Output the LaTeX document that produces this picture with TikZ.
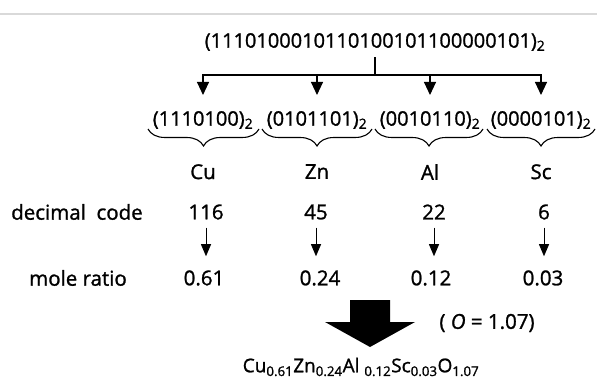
\documentclass[tikz,border=0pt]{standalone}
\usepackage{fontspec}
\setmainfont{Open Sans}[FakeBold=1.2]
\usetikzlibrary{positioning, arrows.meta, decorations.pathreplacing}

\tikzset{
	tip/.style={-{Triangle[length=13pt,width=12pt]}, line width=1.1pt},
	thintip/.style={-{Triangle[length=12pt,width=10pt]}, line width=0.9pt},
	brace/.style={decorate, decoration={brace, mirror, amplitude=17pt}, line width=1.1pt},
	bits/.style={font=\fontsize{20}{24}\selectfont, inner sep=0pt},
	txt/.style={font=\fontsize{20.5}{24}\selectfont, inner sep=0pt},
}

\begin{document}
\begin{tikzpicture}[x=1pt, y=-1pt]
	\useasboundingbox (0,0) rectangle (597,385);
	\draw[gray!30, line width=1.5pt] (0,14) -- (597,14);

	% the full code and its four 7-bit groups
	\node (bin) [bits] at (375,42) {(1110100010110100101100000101)\textsubscript{2}};
	\coordinate (split) at (375,75);
	\node (g1) [bits] at (203,120) {(1110100)\textsubscript{2}};
	\node (g2) [bits] at (317,120) {(0101101)\textsubscript{2}};
	\node (g3) [bits] at (430,120) {(0010110)\textsubscript{2}};
	\node (g4) [bits] at (541,120) {(0000101)\textsubscript{2}};
	\draw[line width=1.1pt, shorten <=6pt] (bin) -- (split);
	\foreach \g in {g1, g2, g3, g4}
		\draw[tip, shorten >=16pt] (split) -| (\g);
	\foreach \l/\r in {148/259, 262/372, 375/483, 487/595}
		\draw[brace] (\l,129) -- (\r,129);

	% elements
	\node (cu) [txt, below=35pt of g1] {Cu};
	\node (zn) [txt, below=35pt of g2] {Zn};
	\node (al) [txt, below=35pt of g3] {Al};
	\node (sc) [txt, below=35pt of g4] {Sc};

	\node (dec) [txt] at (77,212) {decimal\ \ code};
	\node (d1) [txt] at (206,212) {116};
	\node (d2) [txt] at (316,212) {45};
	\node (d3) [txt] at (434,212) {22};
	\node (d4) [txt] at (544,212) {6};

	\node (mole) [txt] at (78,278) {mole ratio};
	\node (m1) [txt] at (204,278) {0.61};
	\node (m2) [txt] at (320,278) {0.24};
	\node (m3) [txt] at (431,278) {0.12};
	\node (m4) [txt] at (543,278) {0.03};

	\foreach \i in {1,...,4}
		\draw[thintip, shorten <=8pt, shorten >=14pt] (d\i) -- (d\i |- m\i.north);

	% result
	\fill (350,300) -- (390,300) -- (390,322) -- (415,322) -- (370,347)
		-- (325,322) -- (350,322) -- cycle;
	\node (oxy) [txt] at (487,323) {(\ \textit{O} = 1.07)};
	\node (formula) [txt, font=\fontsize{19}{22}\selectfont] at (361,367)
		{Cu\textsubscript{0.61}Zn\textsubscript{0.24}Al \textsubscript{0.12}Sc\textsubscript{0.03}O\textsubscript{1.07}};
\end{tikzpicture}
\end{document}
